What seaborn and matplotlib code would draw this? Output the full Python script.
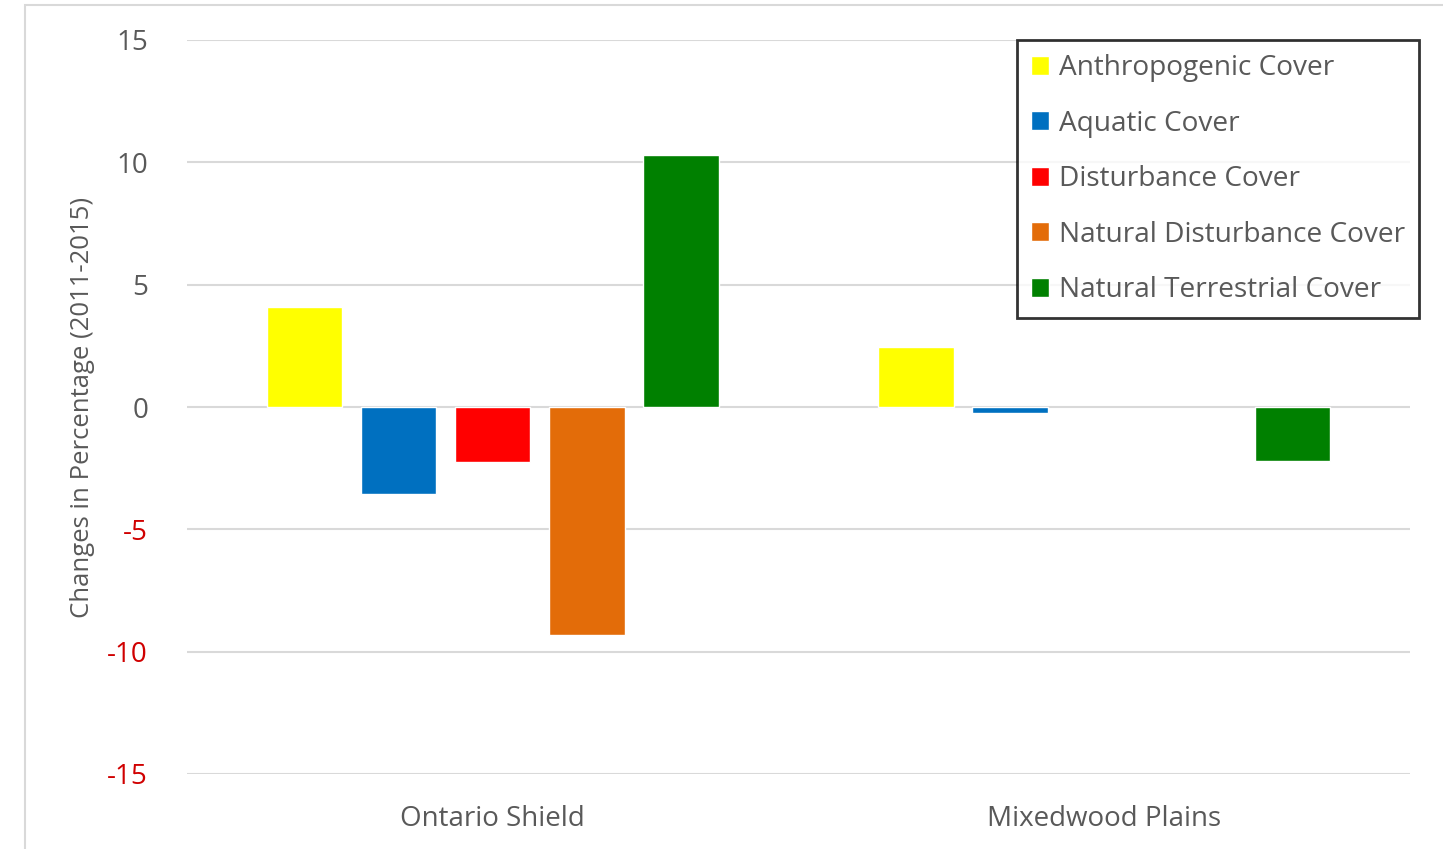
import seaborn as sns
import pandas as pd
import numpy as np
import matplotlib.pyplot as plt
from matplotlib.patches import Rectangle

regiones = ["Ontario Shield", "Mixedwood Plains"]
coberturas = ["Anthropogenic Cover", "Aquatic Cover", "Disturbance Cover",
              "Natural Disturbance Cover", "Natural Terrestrial Cover"]
ontario_shield = [4.1, -3.55, -2.25, -9.3, 10.3]
# sin barra para disturbance / natural disturbance en Mixedwood
mixedwood_plains = [2.45, -0.25, np.nan, np.nan, -2.2]
colores = ["#FFFF00", "#0070C0", "#FF0000", "#E36C09", "#008000"]
yticks = [-15, -10, -5, 0, 5, 10, 15]

df = pd.DataFrame({
    "region": np.repeat(regiones, len(coberturas)),
    "cover": coberturas * 2,
    "cambio": ontario_shield + mixedwood_plains,
})

sns.set_style("white")
plt.rcParams["font.family"] = ["Open Sans", "DejaVu Sans"]
plt.rcParams["axes.unicode_minus"] = False

fig = plt.figure(figsize=(14.43, 8.49), dpi=100)
ax = fig.add_axes([187 / 1443, 1 - 774 / 849, (1410 - 187) / 1443, (774 - 40) / 849])

# marco gris de la figura, estilo excel
fig.patches.append(Rectangle((25 / 1443, -0.01), 1.1, 1 - 5 / 849 + 0.01,
                             transform=fig.transFigure, fill=False,
                             edgecolor="#d9d9d9", linewidth=1.5))

sns.barplot(data=df, x="region", y="cambio", hue="cover", hue_order=coberturas,
            palette=colores, width=0.77, gap=0.2, ax=ax, saturation=1, legend=True)

ax.set_ylim(-15, 15)
ax.set_yticks(yticks)
ax.grid(axis="y", color="#d9d9d9", linewidth=1.5)
ax.set_axisbelow(True)
for s in ax.spines.values():
    s.set_visible(False)
ax.tick_params(axis="both", length=0, labelsize=20, colors="#595959")
ax.tick_params(axis="y", pad=28)
ax.tick_params(axis="x", pad=22)
for lbl, v in zip(ax.get_yticklabels(), yticks):
    if v < 0:
        lbl.set_color("#D00000")

ax.set_xlabel("")
ax.set_ylabel("Changes in Percentage (2011-2015)", fontsize=18.5, color="#595959",
              labelpad=9)

handles, labels = ax.get_legend_handles_labels()
ax.get_legend().remove()
leg = fig.legend(handles, labels, loc="upper left",
                 bbox_to_anchor=(1017 / 1443, 1 - 40 / 849), borderaxespad=0,
                 fontsize=20.2, frameon=True, fancybox=False,
                 handlelength=0.65, handleheight=0.65, handletextpad=0.35,
                 labelspacing=0.98, borderpad=0.5)
leg.get_frame().set_edgecolor("black")
leg.get_frame().set_linewidth(2)
for t in leg.get_texts():
    t.set_color("#595959")

fig.savefig("out.png", dpi=100, facecolor="white")
